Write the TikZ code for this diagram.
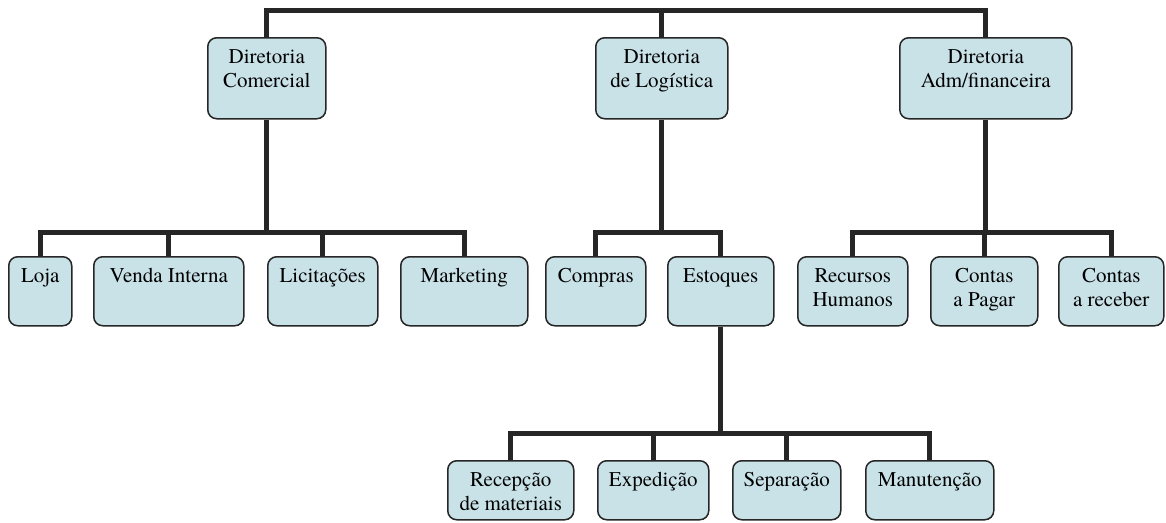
\documentclass[tikz,border=0pt]{standalone}
\usepackage{fontspec}
\IfFontExistsTF{texgyretermes-regular.otf}{\setmainfont{texgyretermes-regular.otf}}{\setmainfont{Latin Modern Roman}}
\definecolor{boxfill}{RGB}{200,226,232}
\definecolor{ink}{RGB}{38,38,38}
\newcommand{\bxt}[3]{\parbox[t][#2pt][t]{#1pt}{\centering\fontsize{21}{24}\selectfont\rule{0pt}{26pt}#3}}
\tikzset{
  box/.style={draw=ink, line width=1.5pt, fill=boxfill, rounded corners=9pt, inner sep=0pt, anchor=north west},
  conn/.style={draw=ink, line width=5pt, line join=miter}
}
\begin{document}
\begin{tikzpicture}[x=1pt,y=1pt]
\useasboundingbox (0,0) rectangle (1166,-522);
% level 1
\node[box] (dc) at (207,-37) {\bxt{118}{81}{Diretoria\\Comercial}};
\node[box] (dl) at (595,-37) {\bxt{132}{81}{Diretoria\\de Logística}};
\node[box] (da) at (899,-37) {\bxt{172}{81}{Diretoria\\Adm/financeira}};
% level 2
\node[box] (loja) at (8,-256) {\bxt{63}{69}{Loja}};
\node[box] (vi) at (93,-256) {\bxt{150}{69}{Venda Interna}};
\node[box] (lic) at (267,-256) {\bxt{110}{69}{Licitações}};
\node[box] (mkt) at (400,-256) {\bxt{127}{69}{Marketing}};
\node[box] (comp) at (545,-256) {\bxt{100}{69}{Compras}};
\node[box] (est) at (667,-256) {\bxt{106}{69}{Estoques}};
\node[box] (rh) at (797,-256) {\bxt{110}{69}{Recursos\\Humanos}};
\node[box] (cap) at (930,-256) {\bxt{107}{69}{Contas\\a Pagar}};
\node[box] (car) at (1058,-256) {\bxt{105}{69}{Contas\\a receber}};
% level 3
\node[box] (rec) at (447,-460) {\bxt{126}{59}{Recepção\\de materiais}};
\node[box] (exp) at (597,-460) {\bxt{111}{59}{Expedição}};
\node[box] (sep) at (732,-460) {\bxt{108}{59}{Separação}};
\node[box] (man) at (865,-460) {\bxt{128}{59}{Manutenção}};
% branch levels
\coordinate (t0) at (0,-10);
\coordinate (b1) at (0,-232);
\coordinate (b2) at (0,-433);
% top bar
\draw[conn] (dc.north) -- (dc.north |- t0) -- (da.north |- t0) -- (da.north);
\draw[conn] (dl.north) -- (dl.north |- t0);
% comercial
\draw[conn] (dc.south) -- (dc.south |- b1);
\draw[conn] (loja.north) -- (loja.north |- b1) -- (mkt.north |- b1) -- (mkt.north);
\draw[conn] (vi.north) -- (vi.north |- b1);
\draw[conn] (lic.north) -- (lic.north |- b1);
% logistica
\draw[conn] (dl.south) -- (dl.south |- b1);
\draw[conn] (comp.north) -- (comp.north |- b1) -- (est.north |- b1) -- (est.north);
% adm
\draw[conn] (da.south) -- (da.south |- b1);
\draw[conn] (rh.north) -- (rh.north |- b1) -- (car.north |- b1) -- (car.north);
\draw[conn] (cap.north) -- (cap.north |- b1);
% estoques
\draw[conn] (est.south) -- (est.south |- b2);
\draw[conn] (rec.north) -- (rec.north |- b2) -- (man.north |- b2) -- (man.north);
\draw[conn] (exp.north) -- (exp.north |- b2);
\draw[conn] (sep.north) -- (sep.north |- b2);
\end{tikzpicture}
\end{document}
